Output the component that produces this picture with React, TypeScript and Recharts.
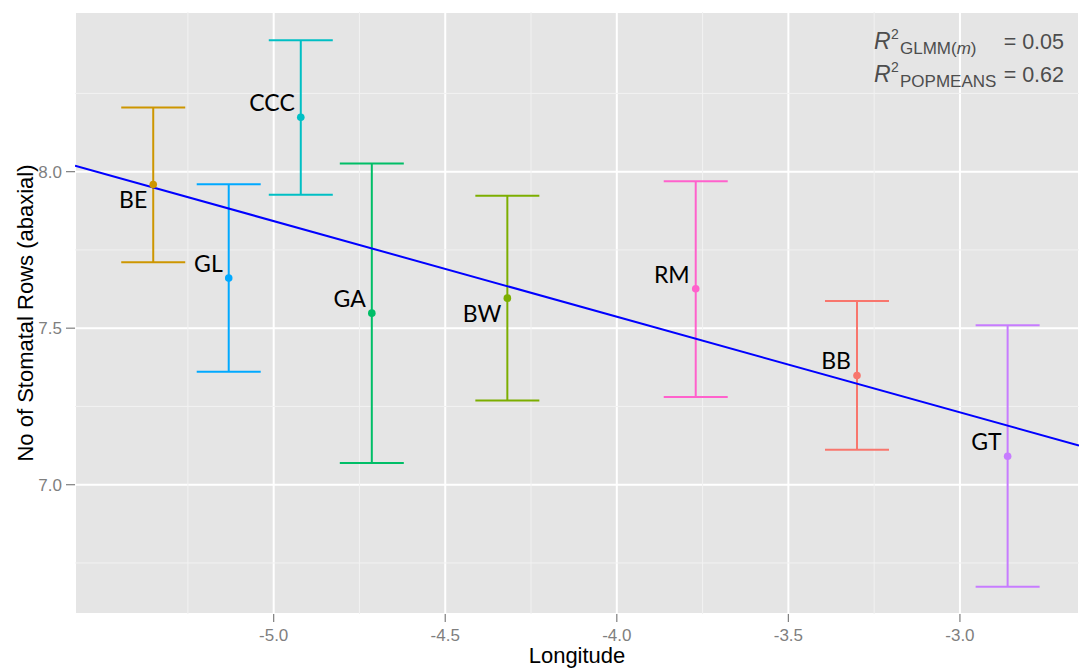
import { ComposedChart, Scatter, ErrorBar, XAxis, YAxis, CartesianGrid, ReferenceLine } from "recharts";

const sites = ["BB", "BE", "BW", "CCC", "GA", "GL", "GT", "RM"];
const longitude = [-3.3, -5.351, -4.319, -4.921, -4.714, -5.131, -2.861, -3.77];
const meanRows = [7.349, 7.959, 7.596, 8.174, 7.548, 7.66, 7.091, 7.626];
const lowerCI = [7.112, 7.711, 7.269, 7.926, 7.069, 7.361, 6.674, 7.28];
const upperCI = [7.587, 8.205, 7.923, 8.42, 8.026, 7.96, 7.509, 7.969];
const labelSide = ["above", "below", "below", "above", "above", "above", "above", "above"];
const siteColors = ["#F8766D", "#CD9600", "#7CAE00", "#00BFC4", "#00BE67", "#00A9FF", "#C77CFF", "#FF61CC"];

const xTicks = [-5.0, -4.5, -4.0, -3.5, -3.0];
const xMinor = [-5.25, -4.75, -4.25, -3.75, -3.25];
const yTicks = [7.0, 7.5, 8.0];
const yMinor = [6.75, 7.25, 7.75, 8.25];
const xDomain = [-5.579, -2.653];
const yDomain = [6.587, 8.51];

// fitted line over population means
const trendIntercept = 6.3146;
const trendSlope = -0.3055;

const W = 1079;
const H = 669;
const PANEL_LEFT = 75;
const GREY = "#7F7F7F";

const points = sites.map((s, i) => ({
  x: longitude[i],
  y: meanRows[i],
  err: [meanRows[i] - lowerCI[i], upperCI[i] - meanRows[i]],
  label: s,
  side: labelSide[i],
  color: siteColors[i],
}));

function SiteDot(props: any) {
  const { cx, cy, payload } = props;
  const ty = payload.side === "above" ? cy - 15 : cy + 15;
  return (
    <g>
      <circle cx={cx} cy={cy} r={3.8} fill={payload.color} />
      <text x={cx - 6} y={ty} textAnchor="end" dominantBaseline="central" fontFamily="Lato, 'Open Sans', sans-serif" fontSize={23} fill="#000">
        {payload.label}
      </text>
    </g>
  );
}

function XTick(props: any) {
  const { x, y, payload } = props;
  return (
    <g>
      <line x1={x} x2={x} y1={y} y2={y + 8} stroke={GREY} strokeWidth={1.2} />
      <text x={x} y={y + 27} textAnchor="middle" fontSize={17} fill={GREY}>
        {payload.value.toFixed(1)}
      </text>
    </g>
  );
}

function YTick(props: any) {
  const { y, payload } = props;
  return (
    <g>
      <line x1={PANEL_LEFT - 9} x2={PANEL_LEFT} y1={y} y2={y} stroke={GREY} strokeWidth={1.2} />
      <text x={PANEL_LEFT - 13} y={y + 6} textAnchor="end" fontSize={17} fill={GREY}>
        {payload.value.toFixed(1)}
      </text>
    </g>
  );
}

function RLine({ y, sub, subItalic, value }: { y: number; sub: string; subItalic?: string; value: string }) {
  return (
    <g fill="#4D4D4D" fontFamily="'Liberation Sans', Arial, sans-serif">
      <text x={874} y={y} fontSize={23} fontStyle="italic">R</text>
      <text x={891} y={y - 10} fontSize={14}>2</text>
      <text x={900} y={y + 5} fontSize={17}>
        {sub}
        {subItalic && <tspan fontStyle="italic">{subItalic}</tspan>}
        {subItalic && ")"}
      </text>
      <text x={1064} y={y} fontSize={21.5} textAnchor="end">{value}</text>
    </g>
  );
}

export default function App() {
  const x0 = xDomain[0];
  const x1 = xDomain[1];
  return (
    <div style={{ position: "absolute", left: 0, top: 0, width: W, height: H, fontFamily: "'Liberation Sans', Arial, sans-serif", background: "#fff" }}>
      <ComposedChart width={W} height={H} margin={{ top: 12, right: 0, bottom: 0, left: 0 }}>
        <CartesianGrid fill="#E5E5E5" fillOpacity={1} stroke="#FFFFFF" strokeWidth={2} />
        {xMinor.map((v) => (
          <ReferenceLine key={"xm" + v} x={v} stroke="#F2F2F2" strokeWidth={1} />
        ))}
        {yMinor.map((v) => (
          <ReferenceLine key={"ym" + v} y={v} stroke="#F2F2F2" strokeWidth={1} />
        ))}
        <XAxis
          type="number"
          dataKey="x"
          domain={xDomain}
          allowDataOverflow
          ticks={xTicks}
          axisLine={false}
          tickLine={false}
          tickSize={0}
          tickMargin={0}
          tick={<XTick />}
          height={55}
          label={{ value: "Longitude", position: "insideBottom", offset: 6, fill: "#000", fontSize: 22 }}
        />
        <YAxis
          type="number"
          dataKey="y"
          domain={yDomain}
          allowDataOverflow
          ticks={yTicks}
          axisLine={false}
          tickLine={false}
          tickSize={0}
          tickMargin={0}
          tick={<YTick />}
          width={PANEL_LEFT}
        />
        {points.map((p) => (
          <Scatter key={p.label} data={[p]} dataKey="y" fill={p.color} shape={<SiteDot />} isAnimationActive={false}>
            <ErrorBar dataKey="err" direction="y" width={32} stroke={p.color} strokeWidth={2} isAnimationActive={false} />
          </Scatter>
        ))}
        <ReferenceLine
          segment={[
            { x: x0, y: trendIntercept + trendSlope * x0 },
            { x: x1, y: trendIntercept + trendSlope * x1 },
          ]}
          stroke="#0000FF"
          strokeWidth={2}
          ifOverflow="hidden"
        />
      </ComposedChart>
      <svg width={W} height={H} style={{ position: "absolute", left: 0, top: 0, pointerEvents: "none" }}>
        <text transform="translate(33, 313) rotate(-90)" textAnchor="middle" fontSize={22} fill="#000" fontFamily="'Liberation Sans', Arial, sans-serif">
          No of Stomatal Rows (abaxial)
        </text>
        <RLine y={49.3} sub="GLMM(" subItalic="m" value="= 0.05" />
        <RLine y={81.5} sub="POPMEANS" value="= 0.62" />
      </svg>
    </div>
  );
}
